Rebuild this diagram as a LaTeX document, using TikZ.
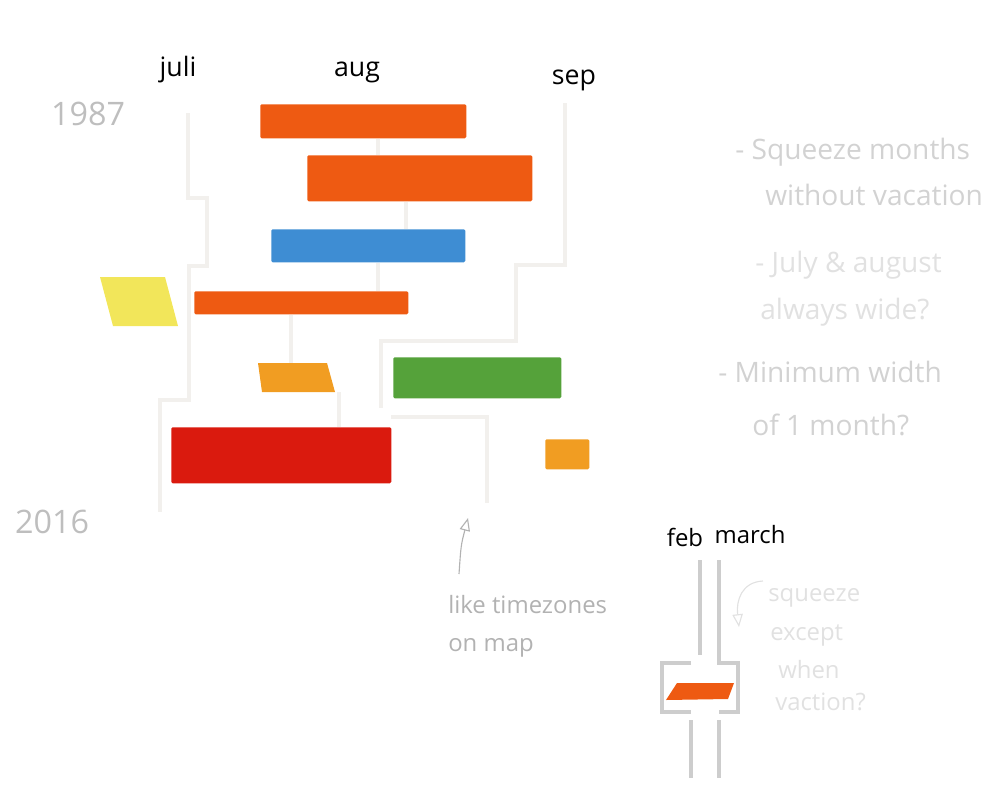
\documentclass[tikz,border=0pt]{standalone}
\usepackage{fontspec}
\setmainfont{Open Sans}
\usetikzlibrary{arrows.meta,positioning}
\definecolor{tangerine}{RGB}{238,90,18}
\definecolor{sky}{RGB}{62,141,211}
\definecolor{lemon}{RGB}{242,230,90}
\definecolor{amber}{RGB}{241,157,34}
\definecolor{leaf}{RGB}{85,162,58}
\definecolor{scarlet}{RGB}{218,26,14}
\definecolor{railgray}{RGB}{242,240,237}
\definecolor{slotgray}{RGB}{205,205,205}
\definecolor{pencil}{RGB}{190,190,190}
\definecolor{tzgray}{RGB}{178,178,178}
\definecolor{notegray}{RGB}{210,210,210}
\definecolor{notelight}{RGB}{225,225,225}
\newcommand\pxu{0.025cm}
\tikzset{
  >={Triangle[open,length=3.2mm,width=2.6mm]},
  bar/.style={fill=#1,inner sep=0pt,anchor=north west,rounded corners=1pt},
  bar/.default=tangerine,
  rail/.style={draw=railgray,line width=2.2pt},
  slot/.style={draw=slotgray,line width=2.8pt},
  month/.style={font=\fontsize{19}{22}\selectfont,text=black},
  year/.style={font=\fontsize{23}{26}\selectfont,text=pencil},
  note/.style={font=\fontsize{20}{24}\selectfont,text=#1,anchor=west,inner sep=0pt},
  note/.default=notegray,
  scribble/.style={font=\fontsize{17}{20}\selectfont,text=#1,anchor=west,inner sep=0pt},
  scribble/.default=tzgray,
  hint/.style={draw=#1,line width=0.8pt,->},
  hint/.default=tzgray,
}

\begin{document}
\begin{tikzpicture}[x=0.025cm,y=-0.025cm]
  \useasboundingbox (0,0) rectangle (1000,797);

  % months and years
  \node[month] (juli) at (178,70) {juli};
  \node[month] (aug) at (357,72) {aug};
  \node[month] (sep) at (574,80) {sep};
  \node[year] (y1987) at (88,114) {1987};
  \node[year] (y2016) at (52,522) {2016};

  % month borders
  \draw[rail] (188,113) -- (188,198) -- (207,198) -- (207,266) -- (189,266)
    -- (189,400) -- (160,400) -- (160,512);
  \draw[rail] (565,103) -- (565,265) -- (516,265) -- (516,341) -- (381,341) -- (381,408);
  \draw[rail] (391,417) -- (487,417) -- (487,503);

  % vacations
  \foreach \n/\x/\y/\w/\h/\c in {
    b1/260/104/206/34/tangerine,
    b2/307/155/225/46/tangerine,
    b3/271/229/194/33/sky,
    b4/194/291/214/23/tangerine,
    b5/393/357/168/41/leaf,
    b6/171/427/220/56/scarlet,
    b7/545/439/44/30/amber}
  {
    \node[bar=\c,minimum width=\w*\pxu,minimum height=\h*\pxu] (\n) at (\x,\y) {};
  }
  \fill[lemon] (100,277) -- (165,277) -- (178,326) -- (113,326) -- cycle;
  \fill[amber] (258,363) -- (327,363) -- (335,392) -- (262,392) -- cycle;

  % aug border between the bars
  \coordinate (augA) at (378,0);
  \coordinate (augB) at (406,0);
  \coordinate (a1top) at (291,363);
  \coordinate (a1bot) at (339,392);
  \draw[rail] (b1.south -| augA) -- (b2.north -| augA);
  \draw[rail] (b2.south -| augB) -- (b3.north -| augB);
  \draw[rail] (b3.south -| augA) -- (b4.north -| augA);
  \draw[rail] (b4.south -| a1top) -- (a1top);
  \draw[rail] (a1bot) -- (b6.north -| a1bot);

  % timezones remark
  \node[scribble] (tz1) at (448,605) {like timezones};
  \node[scribble] (tz2) at (448,648) {on map};
  \coordinate (tztail) at (459,574);
  \coordinate (tzhead) at (468,518);
  \draw[hint] (tztail) .. controls (461,545) .. (tzhead);

  % notes
  \node[note] (n1) at (735,152) {- Squeeze months};
  \node[note] (n2) at (765,195) {without vacation};
  \node[note=notelight] (n3) at (755,265) {- July \& august};
  \node[note=notelight] (n4) at (760,312) {always wide?};
  \node[note] (n5) at (718,372) {- Minimum width};
  \node[note] (n6) at (752,425) {of 1 month?};

  % feb / march detail
  \node[month,font=\fontsize{17}{20}\selectfont] (feb) at (685,537) {feb};
  \node[month,font=\fontsize{17}{20}\selectfont] (march) at (750,535) {march};
  \draw[slot] (700,560) -- (700,655);
  \draw[slot] (719,560) -- (719,663) -- (738,663) -- (738,712) -- (719,712);
  \draw[slot] (691,663) -- (662,663) -- (662,712) -- (691,712);
  \draw[slot] (691,720) -- (691,778);
  \draw[slot] (719,720) -- (719,778);
  \fill[tangerine] (666,700) -- (728,699) -- (734,683) -- (677,683) -- cycle;

  \node[scribble=notelight] (s1) at (768,598) {squeeze};
  \node[scribble=notelight] (s2) at (770,635) {except};
  \node[scribble=notelight] (s3) at (778,670) {when};
  \node[scribble=notelight] (s4) at (775,702) {vaction?};
  \coordinate (sqtail) at (763,581);
  \coordinate (sqhead) at (739,627);
  \draw[hint=notelight] (sqtail) .. controls (742,582) and (736,600) .. (sqhead);
\end{tikzpicture}
\end{document}
